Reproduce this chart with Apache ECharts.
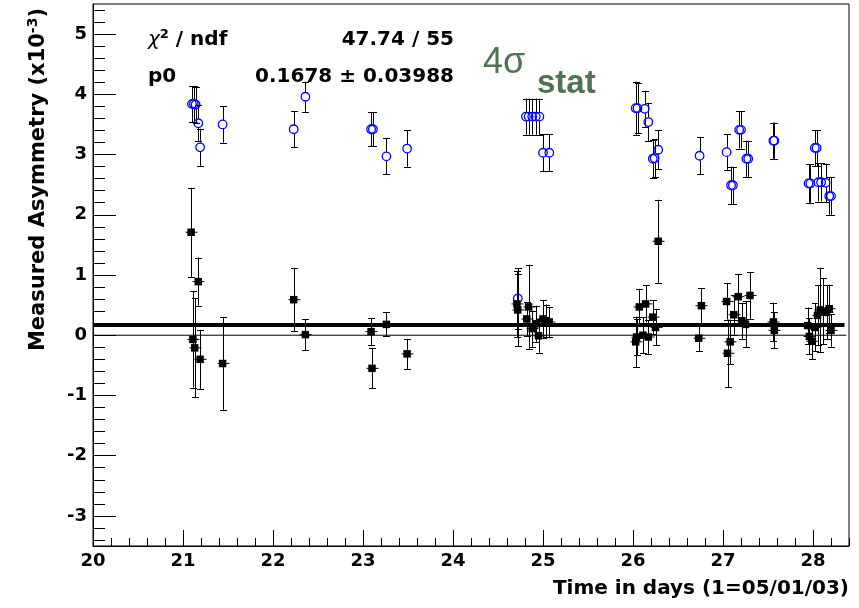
<!DOCTYPE html>
<html><head><meta charset="utf-8">
<script src="https://cdn.jsdelivr.net/npm/echarts@6/dist/echarts.min.js"></script>
<style>html,body{margin:0;padding:0;background:#fff}#c{width:859px;height:608px}</style>
</head><body><div id="c"></div>
<script>
// ---- data (asymmetry in units of 1e-3) ----
const blueX   = [21.10,21.12,21.14,21.17,21.19,21.44,22.23,22.36,23.09,23.11,23.26,23.49,24.72,24.81,24.84,24.88,24.92,24.96,25.00,25.07,26.03,26.05,26.13,26.17,26.22,26.24,26.28,26.74,27.04,27.09,27.11,27.18,27.20,27.26,27.28,27.56,27.57,27.95,27.97,28.02,28.04,28.06,28.09,28.14,28.18,28.20];
const blueY   = [3.84,3.84,3.83,3.52,3.12,3.50,3.42,3.96,3.42,3.42,2.97,3.10,0.61,3.63,3.63,3.63,3.63,3.63,3.03,3.03,3.77,3.77,3.76,3.54,2.93,2.94,3.08,2.98,3.04,2.49,2.49,3.41,3.41,2.93,2.93,3.23,3.23,2.52,2.52,3.11,3.11,2.54,2.54,2.53,2.31,2.31];
const blueErr = [0.30,0.30,0.30,0.30,0.31,0.30,0.30,0.25,0.28,0.28,0.30,0.30,0.50,0.30,0.30,0.30,0.30,0.30,0.31,0.31,0.44,0.42,0.30,0.32,0.32,0.32,0.32,0.31,0.30,0.31,0.31,0.31,0.31,0.30,0.30,0.30,0.30,0.32,0.32,0.30,0.30,0.32,0.32,0.32,0.31,0.31];

const blackX   = [21.09,21.17,21.11,21.13,21.19,21.44,22.23,22.36,23.09,23.10,23.26,23.49,24.71,24.72,24.82,24.84,24.88,24.92,24.95,25.00,25.03,25.07,26.03,26.04,26.07,26.11,26.14,26.17,26.22,26.25,26.28,26.73,26.76,27.04,27.05,27.08,27.12,27.17,27.21,27.25,27.30,27.56,27.57,27.94,27.96,27.99,28.02,28.05,28.08,28.11,28.15,28.18,28.20];
const blackY   = [1.71,0.89,-0.07,-0.21,-0.40,-0.47,0.59,0.01,0.06,-0.55,0.18,-0.31,0.52,0.42,0.27,0.47,0.11,0.19,-0.01,0.27,0.24,0.22,-0.11,-0.03,0.47,0.00,0.52,-0.03,0.30,0.13,1.56,-0.05,0.49,0.56,-0.30,-0.11,0.34,0.64,0.24,0.18,0.66,0.22,0.08,0.16,-0.02,-0.10,0.13,0.33,0.42,0.40,0.38,0.44,0.08];
const blackErr = [0.74,0.40,0.80,0.82,0.49,0.77,0.52,0.26,0.22,0.33,0.20,0.25,0.55,0.60,0.28,0.70,0.30,0.30,0.28,0.31,0.27,0.25,0.42,0.30,0.30,0.30,0.31,0.28,0.28,0.30,0.69,0.22,0.29,0.30,0.56,0.37,0.33,0.38,0.30,0.38,0.39,0.32,0.30,0.30,0.30,0.30,0.40,0.50,0.70,0.55,0.45,0.40,0.27];

const fitP0 = 0.1678;
const fitText = ['47.74 / 55', '0.1678 \u00b1 0.03988'];
const xRange = [20, 28.4];
const yRange = [-3.5, 5.5];
const xTickLabels = [20, 21, 22, 23, 24, 25, 26, 27, 28];
const yTickLabels = [-3, -2, -1, 0, 1, 2, 3, 4, 5];

function minorTicks(lo, hi, step) {
  const out = [];
  const n0 = Math.ceil(lo / step - 1e-9), n1 = Math.floor(hi / step + 1e-9);
  for (let k = n0; k <= n1; k++) {
    const v = +(k * step).toFixed(4);
    if (Math.abs(v - Math.round(v)) > 1e-6) out.push(v);
  }
  return out;
}

const FONT = 'DejaVu Sans';

function errRender(gap, xw) {
  return function (params, api) {
    const x = api.value(0), y = api.value(1), e = api.value(2);
    const c = api.coord([x, y]);
    const t = api.coord([x, y + e]);
    const b = api.coord([x, y - e]);
    const px = Math.round(c[0]) + 0.5;
    const st = { stroke: '#000', lineWidth: 1 };
    const ch = [];
    if (c[1] - gap > t[1]) ch.push({ type: 'line', shape: { x1: px, y1: t[1], x2: px, y2: c[1] - gap }, style: st });
    if (c[1] + gap < b[1]) ch.push({ type: 'line', shape: { x1: px, y1: c[1] + gap, x2: px, y2: b[1] }, style: st });
    ch.push({ type: 'line', shape: { x1: px - 3.5, y1: Math.round(t[1]) + 0.5, x2: px + 3.5, y2: Math.round(t[1]) + 0.5 }, style: st });
    ch.push({ type: 'line', shape: { x1: px - 3.5, y1: Math.round(b[1]) + 0.5, x2: px + 3.5, y2: Math.round(b[1]) + 0.5 }, style: st });
    if (xw > 0) ch.push({ type: 'line', shape: { x1: px - xw, y1: c[1], x2: px + xw, y2: c[1] }, style: st });
    return { type: 'group', children: ch };
  };
}

const chart = echarts.init(document.getElementById('c'), null, { renderer: 'canvas' });
const grid = { left: 93, right: 10, top: 4, bottom: 62, show: true, borderColor: '#000', borderWidth: 1, backgroundColor: '#fff' };

const option = {
  animation: false,
  backgroundColor: '#fff',
  grid: grid,
  xAxis: [
    {
      type: 'value', min: xRange[0], max: xRange[1], position: 'bottom',
      axisLine: { show: true, onZero: false, lineStyle: { color: '#000', width: 1 } },
      axisTick: { show: true, inside: true, length: 16, customValues: xTickLabels, lineStyle: { color: '#000', width: 1 } },
      axisLabel: { show: true, customValues: xTickLabels, margin: 6, color: '#000', fontFamily: FONT, fontWeight: 'bold', fontSize: 18 },
      splitLine: { show: false }
    },
    {
      type: 'value', min: xRange[0], max: xRange[1], position: 'bottom',
      axisLine: { show: false, onZero: false },
      axisTick: { show: true, inside: true, length: 8, customValues: minorTicks(xRange[0], xRange[1], 0.2), lineStyle: { color: '#000', width: 1 } },
      axisLabel: { show: false },
      splitLine: { show: false }
    }
  ],
  yAxis: [
    {
      type: 'value', min: yRange[0], max: yRange[1], position: 'left',
      axisLine: { show: true, onZero: false, lineStyle: { color: '#000', width: 1 } },
      axisTick: { show: true, inside: true, length: 23, customValues: yTickLabels, lineStyle: { color: '#000', width: 1 } },
      axisLabel: { show: true, customValues: yTickLabels, margin: 6, color: '#000', fontFamily: FONT, fontWeight: 'bold', fontSize: 18 },
      splitLine: { show: false }
    },
    {
      type: 'value', min: yRange[0], max: yRange[1], position: 'left',
      axisLine: { show: false, onZero: false },
      axisTick: { show: true, inside: true, length: 12, customValues: minorTicks(yRange[0], yRange[1], 0.2), lineStyle: { color: '#000', width: 1 } },
      axisLabel: { show: false },
      splitLine: { show: false }
    }
  ],
  series: [
    {
      type: 'custom', name: 'blueErr', silent: true, z: 2,
      renderItem: errRender(4.5, 0),
      encode: { x: 0, y: 1 },
      data: blueX.map((x, i) => [x, blueY[i], blueErr[i]]),
      clip: true
    },
    {
      type: 'custom', name: 'blackErr', silent: true, z: 2,
      renderItem: errRender(0, 6),
      encode: { x: 0, y: 1 },
      data: blackX.map((x, i) => [x, blackY[i], blackErr[i]]),
      clip: true
    },
    {
      type: 'scatter', name: 'blue', silent: true, z: 3,
      symbol: 'circle', symbolSize: 8.5,
      itemStyle: { color: 'rgba(0,0,0,0)', borderColor: '#0000ff', borderWidth: 1.3, opacity: 1 },
      data: blueX.map((x, i) => [x, blueY[i]])
    },
    {
      type: 'scatter', name: 'black', silent: true, z: 3,
      symbol: 'rect', symbolSize: 7.5,
      itemStyle: { color: '#000', opacity: 1 },
      data: blackX.map((x, i) => [x, blackY[i]])
    },
    {
      type: 'line', name: 'zero', silent: true, z: 4, symbol: 'none',
      lineStyle: { color: '#000', width: 1 },
      data: [[xRange[0], 0], [28.37, 0]]
    },
    {
      type: 'line', name: 'fit', silent: true, z: 5, symbol: 'none',
      lineStyle: { color: '#000', width: 4 },
      data: [[xRange[0], fitP0], [28.35, fitP0]]
    }
  ],
  graphic: [
    {
      type: 'text', x: 148, y: 40, z: 10,
      style: {
        text: '{g|\u03c7}{s|2}{n| / ndf}',
        verticalAlign: 'middle', align: 'left',
        rich: {
          g: { fontFamily: FONT, fontSize: 20, fontStyle: 'italic', fill: '#000', lineHeight: 24 },
          s: { fontFamily: FONT, fontSize: 13, fontWeight: 'bold', fill: '#000', lineHeight: 13, verticalAlign: 'top' },
          n: { fontFamily: FONT, fontSize: 20, fontWeight: 'bold', fill: '#000', lineHeight: 24 }
        }
      }
    },
    {
      type: 'text', x: 454, y: 40, z: 10,
      style: { text: fitText[0], align: 'right', verticalAlign: 'middle', fontFamily: FONT, fontSize: 20, fontWeight: 'bold', fill: '#000' }
    },
    {
      type: 'text', x: 148, y: 77, z: 10,
      style: { text: 'p0', align: 'left', verticalAlign: 'middle', fontFamily: FONT, fontSize: 20, fontWeight: 'bold', fill: '#000' }
    },
    {
      type: 'text', x: 454, y: 77, z: 10,
      style: { text: fitText[1], align: 'right', verticalAlign: 'middle', fontFamily: FONT, fontSize: 20, fontWeight: 'bold', fill: '#000' }
    },
    {
      type: 'text', x: 483, y: 63, z: 10,
      style: { text: '4\u03c3', align: 'left', verticalAlign: 'middle', fontFamily: 'Liberation Sans', fontSize: 36, fill: '#4f7452' }
    },
    {
      type: 'text', x: 537, y: 84, z: 10,
      style: { text: 'stat', align: 'left', verticalAlign: 'middle', fontFamily: 'Liberation Sans', fontSize: 33, fontWeight: 'bold', fill: '#4f7452' }
    },
    {
      type: 'text', x: 849, y: 589, z: 10,
      style: { text: 'Time in days (1=05/01/03)', align: 'right', verticalAlign: 'middle', fontFamily: FONT, fontSize: 20, fontWeight: 'bold', fill: '#000' }
    },
    {
      type: 'text', x: 39, y: 8, z: 10, rotation: Math.PI / 2,
      style: {
        text: '{a|Measured Asymmetry (x10}{s|-3}{a|)}',
        align: 'right', verticalAlign: 'middle',
        rich: {
          a: { fontFamily: FONT, fontSize: 21, fontWeight: 'bold', fill: '#000', lineHeight: 26 },
          s: { fontFamily: FONT, fontSize: 14, fontWeight: 'bold', fill: '#000', lineHeight: 14, verticalAlign: 'top' }
        }
      }
    }
  ]
};
chart.setOption(option);
</script>
</body></html>
